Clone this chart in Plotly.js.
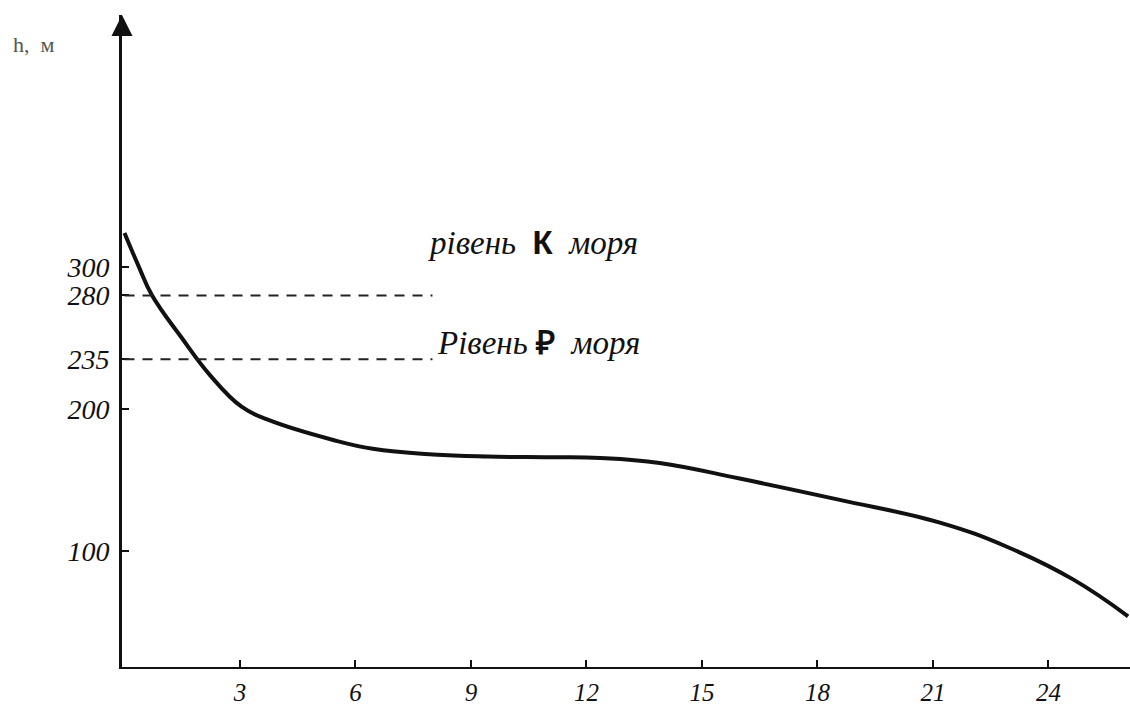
<!DOCTYPE html>
<html><head><meta charset="utf-8">
<script src="https://cdn.plot.ly/plotly-3.0.1.min.js"></script>
<style>html,body{margin:0;padding:0;background:#fff}#chart{width:1130px;height:728px}</style>
</head><body><div id="chart"></div>
<script>
// distance along the river (units of the x axis) and height, m
const distance = [0, 0.36, 0.71, 1.49, 2.22, 3.04, 3.74, 5.42, 6.45, 8.01, 9.42, 11.05, 12.36, 13.9, 15.98, 18.58, 21.18, 22.92, 24.64, 26.07];
const heightM  = [324, 301, 280.3, 250, 223.9, 201.6, 192.3, 178.2, 172, 168, 166.5, 166, 165.5, 162, 151, 136, 120, 103, 80, 54];
const xTickVals = [3, 6, 9, 12, 15, 18, 21, 24];
const xTickText = ['3', '6', '9', '12', '15', '18', '21', '24'];
const yTickVals = [100, 200, 235, 280, 300];
const yTickText = ['100', '200', '235', '280', '300'];
const seaLevels = [280, 235];
const seaLevelEnd = 8.0;
const labelK = "<i>рівень</i>  <span style='font-family:Liberation Sans'><b>К</b></span>  <i>моря</i>";
const labelP = "<i>Рівень</i> <span style='font-family:Liberation Sans'><b>₽</b></span>  <i>моря</i>";

const serif = 'Liberation Serif, DejaVu Serif, serif';

const trace = {
  x: distance, y: heightM, type: 'scatter', mode: 'lines',
  line: {color: '#111', width: 4, shape: 'spline', smoothing: 1.2},
  hoverinfo: 'skip'
};

const shapes = seaLevels.map(v => ({
  type: 'line', xref: 'x', yref: 'y', x0: 0, x1: seaLevelEnd, y0: v, y1: v,
  line: {color: '#222', width: 2, dash: '10px,8px'}
}));

const layout = {
  width: 1130, height: 728,
  margin: {l: 122, r: 0, t: 15, b: 61},
  paper_bgcolor: '#fff', plot_bgcolor: '#fff',
  showlegend: false,
  xaxis: {
    range: [-0.065, 26.12], showgrid: false, zeroline: false,
    showline: true, linecolor: '#111', linewidth: 2,
    ticks: 'inside', ticklen: 7, tickwidth: 2, tickcolor: '#111',
    tickvals: xTickVals, ticktext: xTickText,
    tickfont: {family: serif, size: 25, color: '#111', style: 'italic'},
    ticklabelstandoff: 2
  },
  yaxis: {
    range: [18.3, 477.5], showgrid: false, zeroline: false,
    showline: true, linecolor: '#111', linewidth: 3,
    ticks: 'inside', ticklen: 7, tickwidth: 2, tickcolor: '#111',
    tickvals: yTickVals, ticktext: yTickText,
    tickfont: {family: serif, size: 28, color: '#111', style: 'italic'},
    ticklabelstandoff: 4
  },
  shapes: shapes,
  annotations: [
    {xref: 'paper', yref: 'paper', x: 0, y: 1, ax: 0, ay: 22, showarrow: true,
     arrowhead: 2, arrowsize: 1.4, arrowwidth: 3, arrowcolor: '#111', text: ''},
    {xref: 'paper', yref: 'paper', x: -0.11, y: 0.955, xanchor: 'left', yanchor: 'middle',
     showarrow: false, text: 'h,  м', font: {family: serif, size: 22, color: '#555'}},
    {xref: 'x', yref: 'y', x: 10.6, y: 317, showarrow: false, text: labelK,
     font: {family: serif, size: 33, color: '#111'}},
    {xref: 'x', yref: 'y', x: 10.75, y: 246.5, showarrow: false, text: labelP,
     font: {family: serif, size: 33, color: '#111'}}
  ]
};

Plotly.newPlot('chart', [trace], layout, {staticPlot: true, displayModeBar: false});
</script>
</body></html>
